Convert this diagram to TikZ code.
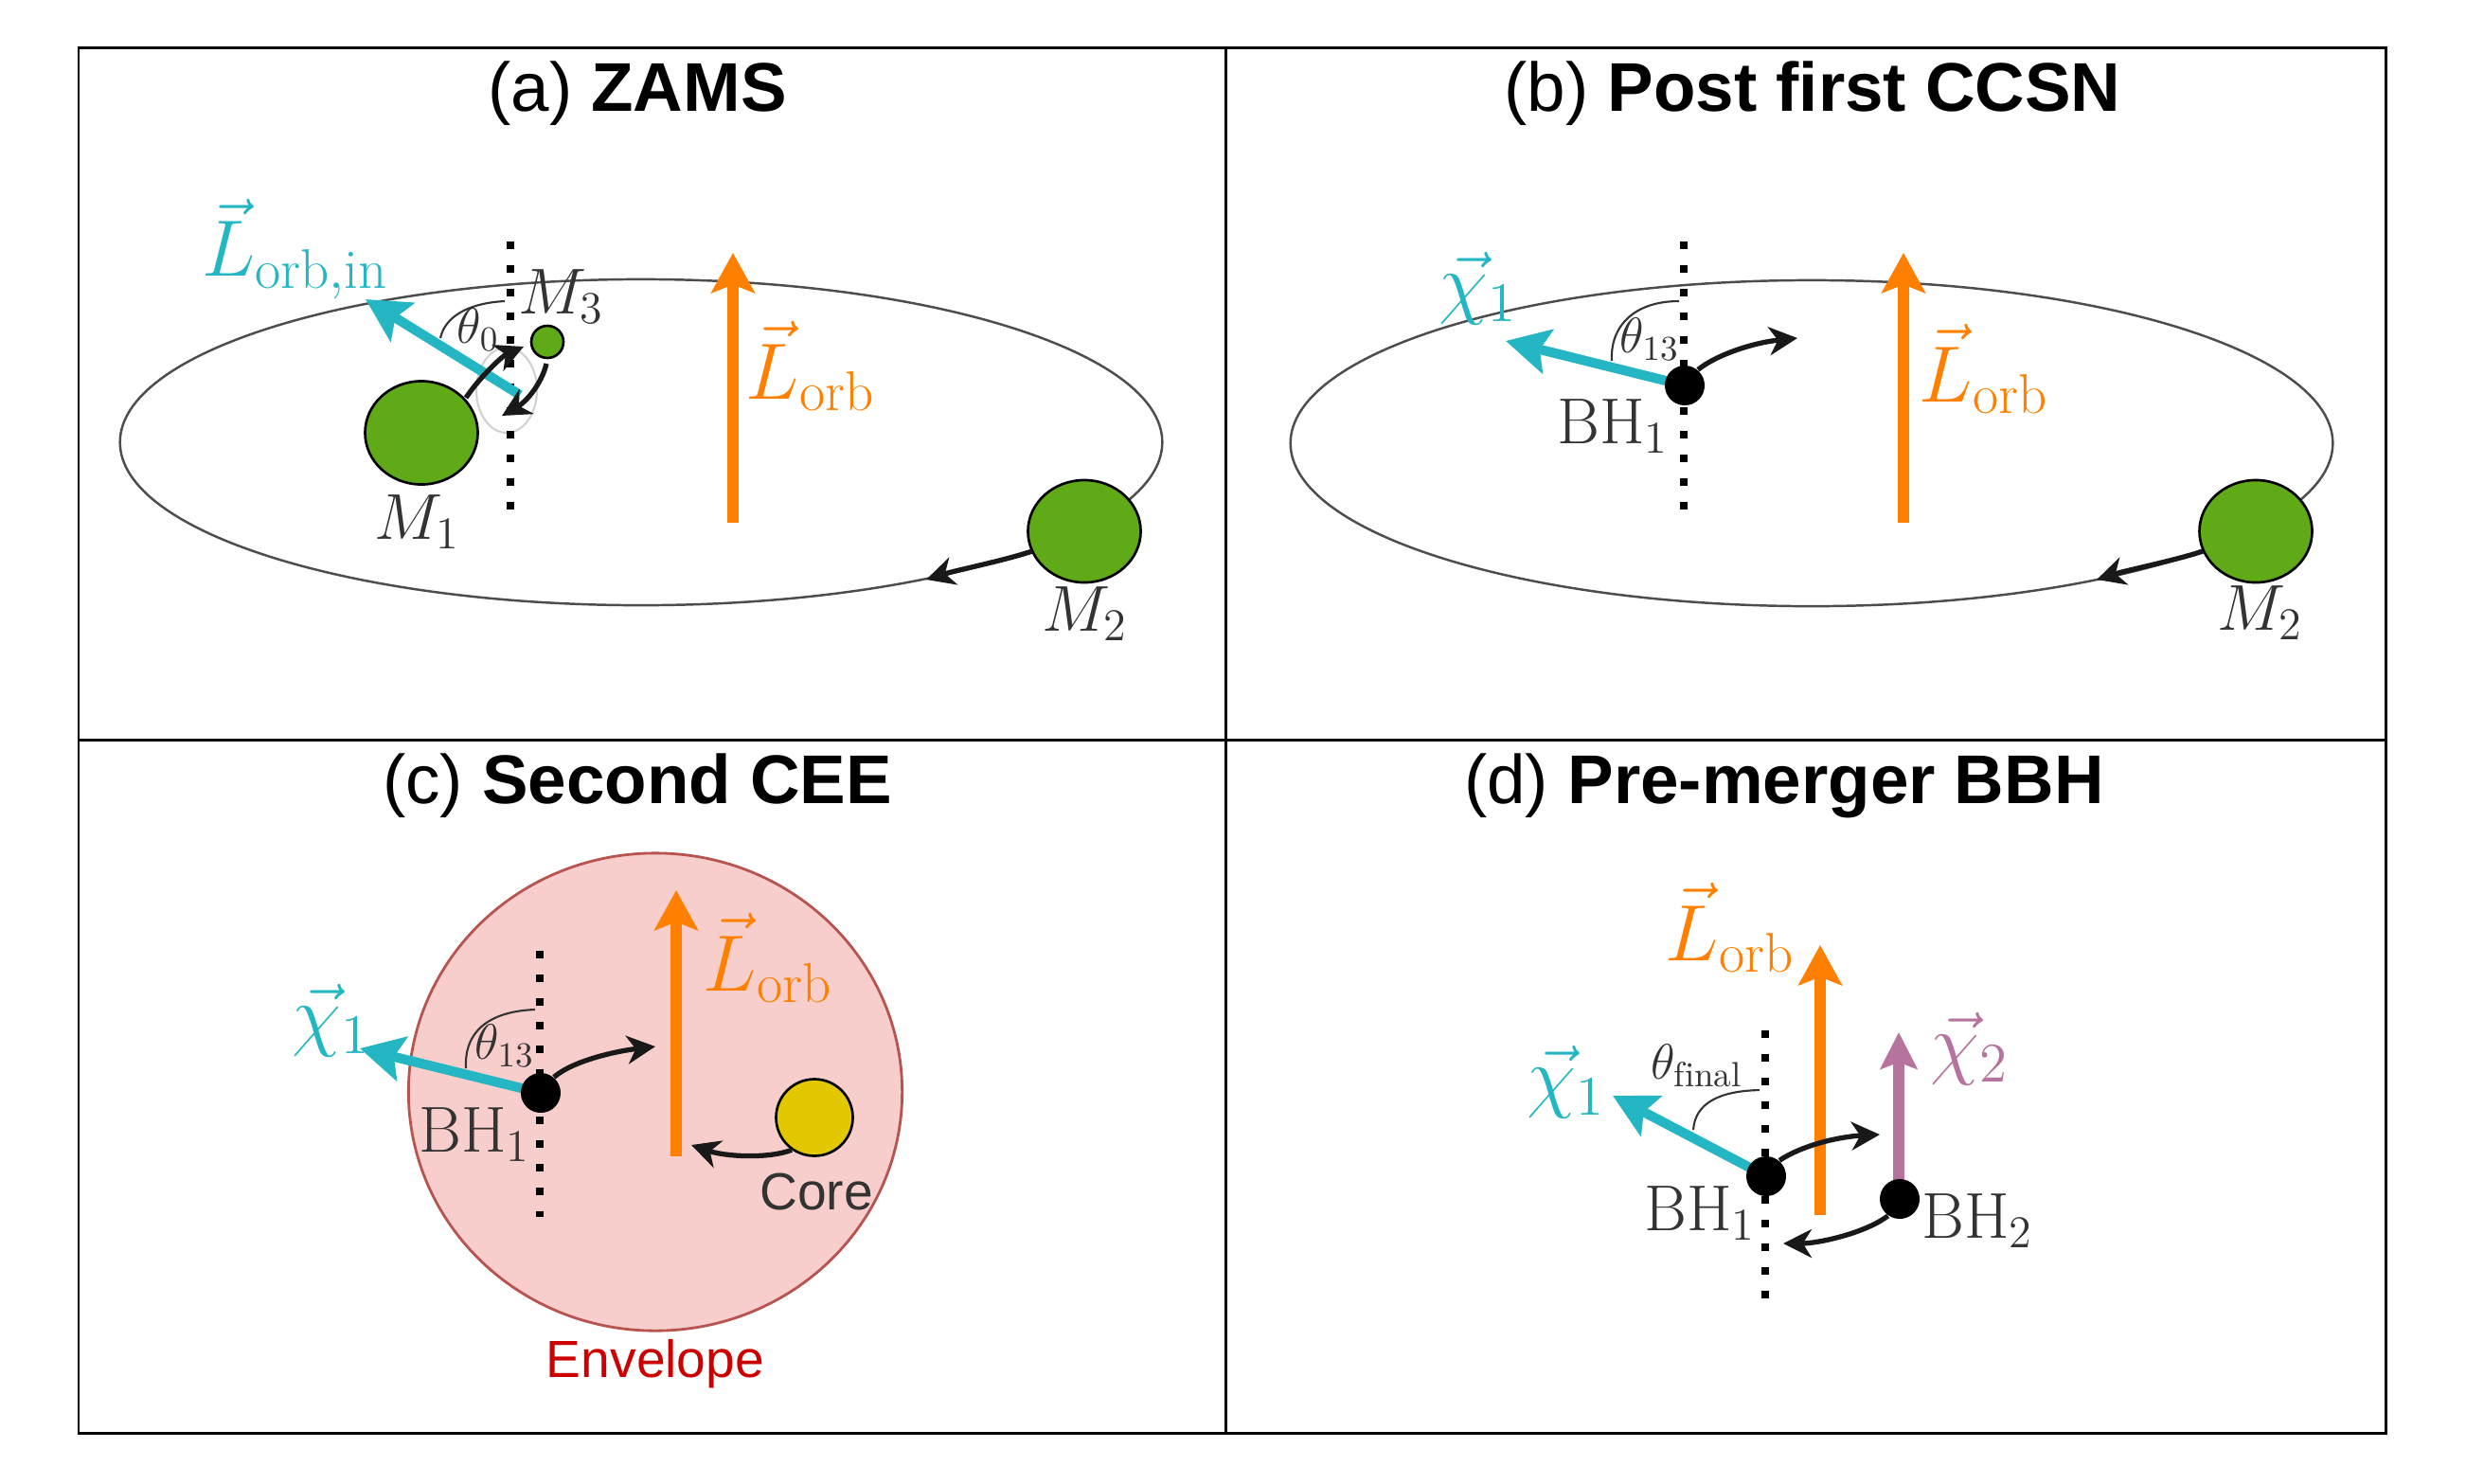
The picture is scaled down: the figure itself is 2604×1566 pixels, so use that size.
\RequirePackage{fix-cm}
\documentclass[tikz,border=0pt]{standalone}
\usepackage{fontspec}
\setsansfont{Liberation Sans}
\usetikzlibrary{arrows.meta,shapes.geometric}
\definecolor{mgreen}{HTML}{60A917}
\definecolor{mcyan}{HTML}{24B7C3}
\definecolor{morange}{HTML}{FF8000}
\definecolor{mpurple}{HTML}{B5739D}
\definecolor{mpink}{HTML}{F8CECC}
\definecolor{mpinkb}{HTML}{B85450}
\definecolor{myellow}{HTML}{E3C800}
\definecolor{mtext}{HTML}{333333}
\definecolor{mred}{HTML}{CC0000}
\definecolor{morbit}{HTML}{4D4D4D}
\begin{document}
\begin{tikzpicture}[x=0.01cm,y=-0.01cm,
 panelframe/.style={line width=0.85pt, draw=black},
 orbitline/.style={line width=0.7pt, draw=morbit},
 stardisk/.style={ellipse, draw=black, line width=0.75pt, fill=mgreen, inner sep=0pt},
 bhdot/.style={circle, fill=black, inner sep=0pt, minimum size=0.42cm},
 dotline/.style={line width=2.3pt, dash pattern=on 2.3pt off 4.8pt},
 cyanvec/.style={draw=mcyan, line width=2.9pt, -{Stealth[length=13pt,width=13.5pt,inset=2.5pt]}},
 orangevec/.style={draw=morange, line width=3.4pt, -{Stealth[length=12pt,width=13pt,inset=2.5pt]}},
 purplevec/.style={draw=mpurple, line width=3.2pt, -{Stealth[length=11pt,width=11pt,inset=2pt]}},
 motion/.style={draw=black!90, line width=1.5pt, -{Stealth[length=8.5pt,width=8.5pt,inset=2.6pt]}},
 anglearc/.style={draw=mtext, line width=0.6pt},
 paneltitle/.style={font=\sffamily\fontsize{20.7}{24}\selectfont, text=black, anchor=base},
 biglab/.style={font=\fontsize{24}{27}\selectfont},
 midlab/.style={font=\fontsize{19.5}{22}\selectfont, text=mtext},
 anglab/.style={font=\fontsize{15}{17}\selectfont, text=mtext},
 sanslab/.style={font=\sffamily\fontsize{15.7}{18}\selectfont},
]
\useasboundingbox (0,0) rectangle (2604,1566);

% frame
\draw[panelframe] (83,50) rectangle (2519,1513);
\draw[panelframe] (1294,50) -- (1294,1513);
\draw[panelframe] (83,781) -- (2519,781);

% titles
\node[paneltitle] (ta) at (673,117) {(a) \textbf{ZAMS}};
\node[paneltitle] (tb) at (1914,117) {(b) \textbf{Post first CCSN}};
\node[paneltitle] (tc) at (673,848) {(c) \textbf{Second CEE}};
\node[paneltitle] (td) at (1884,848) {(d) \textbf{Pre-merger BBH}};

% ---------------- panel (a)
\draw[orbitline] (677,467) ellipse [x radius=5.5cm, y radius=1.72cm];
\draw[gray!35, line width=0.6pt] (535,412) ellipse [x radius=0.32cm, y radius=0.45cm];
\coordinate (dta) at (539,255);
\coordinate (dba) at (539,540);
\draw[dotline] (dta) -- (dba);
\coordinate (lota) at (774,552);
\coordinate (loha) at (774,267);
\draw[orangevec] (lota) -- (loha);
\node[stardisk, minimum width=1.19cm, minimum height=1.09cm] (m1) at (445,457) {};
\node[stardisk, minimum width=1.19cm, minimum height=1.08cm] (m2a) at (1145,561) {};
\node[stardisk, minimum size=0.34cm] (m3) at (578,361) {};
\coordinate (cta) at (549,417);
\coordinate (cha) at (386,316);
\draw[cyanvec] (cta) -- (cha);
\coordinate (a1s) at (492,420);
\coordinate (a1e) at (553,366);
\draw[motion] (a1s) .. controls (506,399) and (530,376) .. (a1e);
\coordinate (a2s) at (577,384);
\coordinate (a2e) at (530,439);
\draw[motion] (a2s) .. controls (572,405) and (556,424) .. (a2e);
\coordinate (a3s) at (1090,582);
\coordinate (a3e) at (978,612);
\draw[motion] (a3s) .. controls (1060,592) and (1010,602) .. (a3e);
\coordinate (tha1) at (465,357);
\coordinate (tha2) at (533,318);
\draw[anglearc] (tha1) .. controls (470,334) and (495,320) .. (tha2);
\node[biglab, text=mcyan] (llin) at (312,263) {$\vec{L}_{\mathrm{orb,in}}$};
\node[midlab] (m3lab) at (593,313) {$M_3$};
\node[anglab] (th0) at (505,348) {$\theta_0$};
\node[midlab] (m1lab) at (441,551) {$M_1$};
\node[midlab] (m2alab) at (1146,648) {$M_2$};
\node[biglab, text=morange] (loalab) at (856,387) {$\vec{L}_{\mathrm{orb}}$};

% ---------------- panel (b)
\draw[orbitline] (1913,468) ellipse [x radius=5.5cm, y radius=1.72cm];
\coordinate (dtb) at (1778,255);
\coordinate (dbb) at (1778,542);
\draw[dotline] (dtb) -- (dbb);
\coordinate (lotb) at (2010,552);
\coordinate (lohb) at (2010,267);
\draw[orangevec] (lotb) -- (lohb);
\node[stardisk, minimum width=1.19cm, minimum height=1.08cm] (m2b) at (2382,561) {};
\coordinate (chb) at (1590,360);
\draw[cyanvec] (1779,407) -- (chb);
\node[bhdot] (bh1b) at (1779,407) {};
\coordinate (b1e) at (1898,357);
\draw[motion] (bh1b.50) .. controls (1812,375) and (1850,362) .. (b1e);
\coordinate (b3s) at (2326,582);
\coordinate (b3e) at (2214,612);
\draw[motion] (b3s) .. controls (2296,592) and (2246,602) .. (b3e);
\coordinate (thb1) at (1702,381);
\coordinate (thb2) at (1773,318);
\draw[anglearc] (thb1) .. controls (1700,345) and (1725,318) .. (thb2);
\node[biglab, text=mcyan] (chi1blab) at (1561,305) {$\vec{\chi}_1$};
\node[anglab] (th13b) at (1742,358) {$\theta_{13}$};
\node[midlab] (bh1blab) at (1703,450) {$\mathrm{BH}_1$};
\node[biglab, text=morange] (loblab) at (2095,390) {$\vec{L}_{\mathrm{orb}}$};
\node[midlab] (m2blab) at (2387,647) {$M_2$};

% ---------------- panel (c)
\node[ellipse, draw=mpinkb, fill=mpink, line width=0.8pt, minimum width=5.21cm, minimum height=5.04cm, inner sep=0pt] (env) at (692,1153) {};
\coordinate (dtc) at (570,1004);
\coordinate (dbc) at (570,1285);
\draw[dotline] (dtc) -- (dbc);
\coordinate (lotc) at (714,1221);
\coordinate (lohc) at (714,940);
\draw[orangevec] (lotc) -- (lohc);
\coordinate (chc) at (380,1107);
\draw[cyanvec] (571,1154) -- (chc);
\node[bhdot] (bh1c) at (571,1154) {};
\coordinate (c1e) at (692,1105);
\draw[motion] (bh1c.50) .. controls (605,1120) and (650,1110) .. (c1e);
\node[ellipse, draw=black, fill=myellow, line width=0.75pt, minimum size=0.81cm, inner sep=0pt] (core) at (860,1180) {};
\coordinate (c2e) at (730,1209);
\draw[motion] (core.235) .. controls (810,1224) and (765,1221) .. (c2e);
\coordinate (thc1) at (492,1128);
\coordinate (thc2) at (565,1066);
\draw[anglearc] (thc1) .. controls (490,1090) and (515,1068) .. (thc2);
\node[biglab, text=mcyan] (chi1clab) at (350,1078) {$\vec{\chi}_1$};
\node[anglab] (th13c) at (533,1104) {$\theta_{13}$};
\node[midlab] (bh1clab) at (501,1198) {$\mathrm{BH}_1$};
\node[biglab, text=morange] (locl) at (811,1012) {$\vec{L}_{\mathrm{orb}}$};
\node[sanslab, text=mtext] (corelab) at (862,1258) {Core};
\node[sanslab, text=mred, anchor=base] (envlab) at (692,1454) {Envelope};

% ---------------- panel (d)
\coordinate (dtd) at (1864,1088);
\coordinate (dbd) at (1864,1375);
\draw[dotline] (dtd) -- (dbd);
\coordinate (lotd) at (1922,1283);
\coordinate (lohd) at (1922,998);
\draw[orangevec] (lotd) -- (lohd);
\coordinate (chd) at (1703,1157);
\draw[cyanvec] (1865,1242) -- (chd);
\coordinate (chi2h) at (2005,1090);
\draw[purplevec] (2005,1266) -- (chi2h);
\node[bhdot] (bh1d) at (1865,1242) {};
\node[bhdot] (bh2d) at (2006,1266) {};
\coordinate (d1e) at (1985,1198);
\draw[motion] (bh1d.50) .. controls (1905,1208) and (1945,1200) .. (d1e);
\coordinate (d2e) at (1883,1313);
\draw[motion] (bh2d.235) .. controls (1970,1302) and (1920,1313) .. (d2e);
\coordinate (thd1) at (1788,1193);
\coordinate (thd2) at (1858,1151);
\draw[anglearc] (thd1) .. controls (1790,1165) and (1815,1152) .. (thd2);
\node[biglab, text=morange] (lodl) at (1827,980) {$\vec{L}_{\mathrm{orb}}$};
\node[biglab, text=mcyan] (chi1dlab) at (1654,1143) {$\vec{\chi}_1$};
\node[anglab] (thf) at (1792,1125) {$\theta_{\mathrm{final}}$};
\node[biglab, text=mpurple] (chi2lab) at (2080,1108) {$\vec{\chi}_2$};
\node[midlab] (bh1dlab) at (1795,1281) {$\mathrm{BH}_1$};
\node[midlab] (bh2dlab) at (2088,1289) {$\mathrm{BH}_2$};
\end{tikzpicture}
\end{document}
